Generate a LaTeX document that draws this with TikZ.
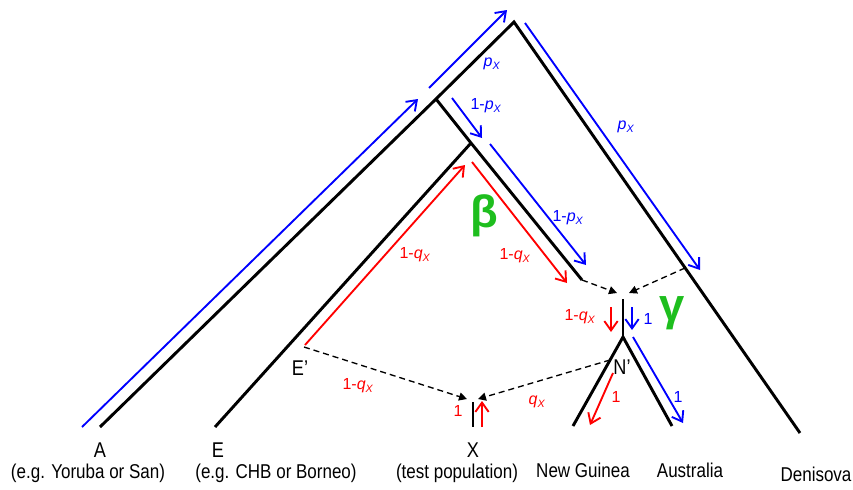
\documentclass[tikz,border=0pt]{standalone}
\usepackage{fontspec}
\setmainfont{Liberation Sans}[FakeStretch=0.85]
\newfontfamily\grkfont{Liberation Sans}
\usetikzlibrary{arrows.meta,positioning}
\definecolor{flowblue}{RGB}{0,0,255}
\definecolor{flowred}{RGB}{255,0,0}
\definecolor{parmgreen}{RGB}{30,190,30}
\newcommand{\pX}{{\itshape p}\textsubscript{\itshape X}}
\newcommand{\qX}{{\itshape q}\textsubscript{\itshape X}}
\tikzset{
  brn/.style={black, line width=2.2pt},
  mix/.style={black, line width=1pt, dash pattern=on 4.5pt off 3pt,
              -{Triangle[length=6pt, width=6pt]}},
  bflow/.style={flowblue, line width=1.4pt, -{Straight Barb[length=7pt, width=10pt]}},
  rflow/.style={flowred, line width=1.4pt, -{Straight Barb[length=7pt, width=10pt]}},
  blab/.style={font=\grkfont\fontsize{12}{13}\selectfont, text=flowblue, inner sep=1pt},
  rlab/.style={font=\grkfont\fontsize{12}{13}\selectfont, text=flowred, inner sep=1pt},
  grk/.style={font=\grkfont\fontsize{34}{34}\selectfont\bfseries, text=parmgreen},
  lf/.style={font=\fontsize{16}{17}\selectfont, inner sep=1pt},
  pop/.style={font=\fontsize{15}{16}\selectfont, inner sep=1pt},
}

\begin{document}
\begin{tikzpicture}[x=0.75pt, y=-0.75pt]
  \useasboundingbox (0,0) rectangle (853,489);
  % tree points
  \coordinate (root) at (514,22);
  \coordinate (ancA) at (436,99);
  \coordinate (ancE) at (471,143);
  \coordinate (srcB) at (582,280);
  \coordinate (srcD) at (685,268);
  \coordinate (tipA) at (100,427);
  \coordinate (tipE) at (215,427);
  \coordinate (tipD) at (800,433);
  \coordinate (ntop) at (623,299);
  \coordinate (nmid) at (623,337);
  \coordinate (tipNG) at (573,426);
  \coordinate (tipAu) at (672,426);
  \coordinate (xtop) at (473,402);
  \coordinate (xbot) at (473,427);
  \coordinate (epr) at (304,347);
  \coordinate (npr) at (610,360);
  \coordinate (nInL) at (617,293);
  \coordinate (nInR) at (629,293);
  \coordinate (xInL) at (467,399);
  \coordinate (xInR) at (478,399);

  \draw[brn] (tipA) -- (ancA) -- (root) -- (tipD);
  \draw[brn] (ancA) -- (ancE) -- (srcB);
  \draw[brn] (ancE) -- (tipE);
  \draw[brn] (ntop) -- (nmid);
  \draw[brn] (tipNG) -- (nmid) -- (tipAu);
  \draw[brn] (xtop) -- (xbot);

  % admixture
  \draw[mix] (srcB) -- (nInL);
  \draw[mix] (srcD) -- (nInR);
  \draw[mix] (epr) -- (xInL);
  \draw[mix] (npr) -- (xInR);

  % blue paths
  \draw[bflow] (82,427) -- (418,99);
  \draw[bflow] (429,88) -- (507,10);
  \draw[bflow] (525,23) -- (700,270);
  \draw[bflow] (452,98) -- (482,138);
  \draw[bflow] (490,144) -- (586,265);
  \draw[bflow] (632,307) -- (632,330);
  \draw[bflow] (633,337) -- (683,423);
  \node[blab] (bl1) at (492,64) {\pX};
  \node[blab] (bl2) at (626,127) {\pX};
  \node[blab] (bl3) at (486,106) {1-\pX};
  \node[blab] (bl4) at (568,218) {1-\pX};
  \node[blab] (bl5) at (648,319) {1};
  \node[blab] (bl6) at (678,397) {1};

  % red paths
  \draw[rflow] (305,345) -- (465,165);
  \draw[rflow] (472,162) -- (567,283);
  \draw[rflow] (611,307) -- (611,332);
  \draw[rflow] (613,373) -- (590,425);
  \draw[rflow] (482,427) -- (482,401);
  \node[rlab] (rl1) at (415,255) {1-\qX};
  \node[rlab] (rl2) at (515,256) {1-\qX};
  \node[rlab] (rl3) at (580,317) {1-\qX};
  \node[rlab] (rl4) at (358,386) {1-\qX};
  \node[rlab] (rl5) at (537,402) {\qX};
  \node[rlab] (rl6) at (458,411) {1};
  \node[rlab] (rl7) at (616,397) {1};

  \node[grk] (beta) at (484,216) {β};
  \node[grk] (gamma) at (672,313) {γ};

  \node[lf] (Eprime) at (300,368) {E’};
  \node[lf] (Nprime) at (622,367) {N’};

  % leaves
  \node[lf] (lblA) at (100,450) {A};
  \node[lf] (lblE) at (218,450) {E};
  \node[lf] (lblX) at (473,450) {X};
  \node[pop] (popA) at (88,473) {(e.g. Yoruba or San)};
  \node[pop] (popE) at (276,473) {(e.g. CHB or Borneo)};
  \node[pop] (popX) at (457,473) {(test population)};
  \node[pop] (popNG) at (583,470) {New Guinea};
  \node[pop] (popAu) at (690,470) {Australia};
  \node[pop] (popD) at (816,474) {Denisova};
\end{tikzpicture}
\end{document}
